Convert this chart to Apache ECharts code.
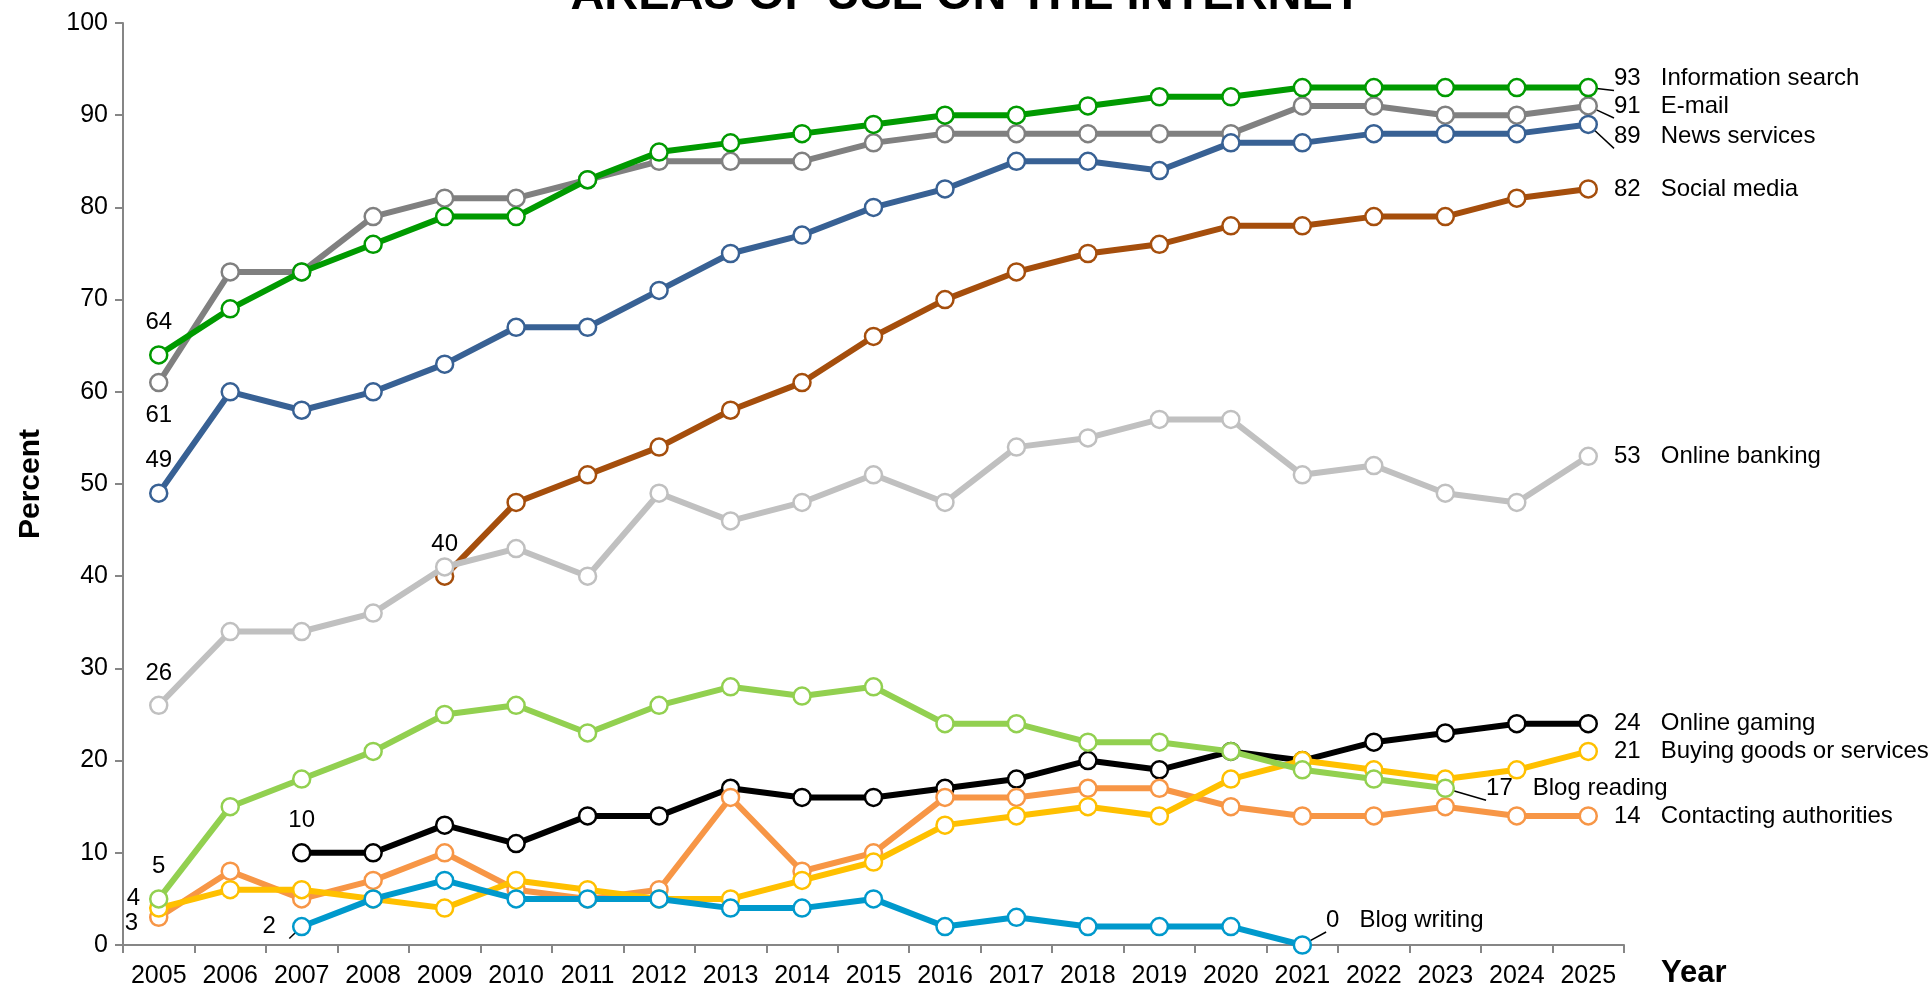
<!DOCTYPE html>
<html>
<head>
<meta charset="utf-8">
<title>Areas of use on the internet</title>
<script src="https://cdn.jsdelivr.net/npm/echarts@6/dist/echarts.min.js"></script>
<style>
  html, body { margin: 0; padding: 0; background: #fff; }
  #chart { width: 1932px; height: 990px; }
</style>
</head>
<body>
<div id="chart"></div>
<script>
  // years on the x axis
  const years = ['2005', '2006', '2007', '2008', '2009', '2010', '2011', '2012', '2013', '2014', '2015',
                 '2016', '2017', '2018', '2019', '2020', '2021', '2022', '2023', '2024', '2025']
  const yTicks = [0, 10, 20, 30, 40, 50, 60, 70, 80, 90, 100]

  // percent per year, null = not asked that year
  const infoSearch   = [64, 69, 73, 76, 79, 79, 83, 86, 87, 88, 89, 90, 90, 91, 92, 92, 93, 93, 93, 93, 93]
  const email        = [61, 73, 73, 79, 81, 81, 83, 85, 85, 85, 87, 88, 88, 88, 88, 88, 91, 91, 90, 90, 91]
  const newsServices = [49, 60, 58, 60, 63, 67, 67, 71, 75, 77, 80, 82, 85, 85, 84, 87, 87, 88, 88, 88, 89]
  const socialMedia  = [null, null, null, null, 40, 48, 51, 54, 58, 61, 66, 70, 73, 75, 76, 78, 78, 79, 79, 81, 82]
  const onlineBanking = [26, 34, 34, 36, 41, 43, 40, 49, 46, 48, 51, 48, 54, 55, 57, 57, 51, 52, 49, 48, 53]
  const onlineGaming = [null, null, 10, 10, 13, 11, 14, 14, 17, 16, 16, 17, 18, 20, 19, 21, 20, 22, 23, 24, 24]
  const contacting   = [3, 8, 5, 7, 10, 6, 5, 6, 16, 8, 10, 16, 16, 17, 17, 15, 14, 14, 15, 14, 14]
  const buying       = [4, 6, 6, 5, 4, 7, 6, 5, 5, 7, 9, 13, 14, 15, 14, 18, 20, 19, 18, 19, 21]
  const blogReading  = [5, 15, 18, 21, 25, 26, 23, 26, 28, 27, 28, 24, 24, 22, 22, 21, 19, 18, 17, null, null]
  const blogWriting  = [null, null, 2, 5, 7, 5, 5, 5, 4, 4, 5, 2, 3, 2, 2, 2, 0, null, null, null, null]

  const FONT = '"Liberation Sans", Arial, sans-serif'
  const leader = { show: true, lineStyle: { color: '#000', width: 1.5 } }

  // label for the last point: value, then the series name
  const endLabel = (name, extra) => Object.assign({
    show: true,
    position: 'right',
    distance: 16,
    formatter: p => '{v|' + p.value + '}{n|' + name + '}'
  }, extra || {})

  const startLabel = (position, distance, extra) => Object.assign({
    show: true, position: position, distance: distance
  }, extra || {})

  // index -> label / labelLine for the few annotated points
  const makeSeries = (name, values, color, labels, z) => ({
    name: name,
    type: 'line',
    z: z,
    data: values.map((v, i) => {
      const item = { value: v }
      if (labels[i]) {
        item.label = labels[i].label
        if (labels[i].line) item.labelLine = leader
      }
      return item
    }),
    symbol: 'circle',
    symbolSize: 17,
    lineStyle: { color: color, width: 6 },
    itemStyle: { color: '#fff', borderColor: color, borderWidth: 2.5 },
    label: {
      show: false,
      color: '#000',
      fontFamily: FONT,
      fontSize: 24,
      lineHeight: 24,
      rich: {
        v: { fontFamily: FONT, fontSize: 24, color: '#000' },
        n: { fontFamily: FONT, fontSize: 24, color: '#000', padding: [0, 0, 0, 20] }
      }
    },
    emphasis: { disabled: true },
    connectNulls: false
  })

  const series = [
    makeSeries('E-mail', email, '#808080', {
      0: { label: startLabel('bottom', 11) },
      20: { label: endLabel('E-mail'), line: true }
    }, 2),
    makeSeries('Information search', infoSearch, '#009A00', {
      0: { label: startLabel('top', 11) },
      20: { label: endLabel('Information search', { offset: [0, -9] }), line: true }
    }, 3),
    makeSeries('News services', newsServices, '#386194', {
      0: { label: startLabel('top', 11) },
      20: { label: endLabel('News services', { offset: [0, 12] }), line: true }
    }, 4),
    makeSeries('Social media', socialMedia, '#A54E0C', {
      4: { label: startLabel('top', 10) },
      20: { label: endLabel('Social media') }
    }, 5),
    makeSeries('Online banking', onlineBanking, '#C0C0C0', {
      0: { label: startLabel('top', 10) },
      20: { label: endLabel('Online banking') }
    }, 6),
    makeSeries('Online gaming', onlineGaming, '#000000', {
      2: { label: startLabel('top', 11) },
      20: { label: endLabel('Online gaming') }
    }, 7),
    makeSeries('Contacting authorities', contacting, '#F79646', {
      0: { label: startLabel('left', 11, { offset: [0, 6] }) },
      20: { label: endLabel('Contacting authorities') }
    }, 8),
    makeSeries('Buying goods or services', buying, '#FFC000', {
      0: { label: startLabel('left', 9, { offset: [0, -10] }) },
      20: { label: endLabel('Buying goods or services') }
    }, 9),
    makeSeries('Blog reading', blogReading, '#92D050', {
      0: { label: startLabel('top', 11) },
      18: { label: endLabel('Blog reading', { distance: 31 }), line: true }
    }, 10),
    makeSeries('Blog writing', blogWriting, '#0099CC', {
      2: { label: startLabel('left', 16), line: true },
      16: { label: endLabel('Blog writing', { distance: 14, offset: [0, -25] }), line: true }
    }, 11)
  ]

  const chart = echarts.init(document.getElementById('chart'))
  chart.setOption({
    animation: false,
    backgroundColor: '#fff',
    title: {
      text: 'AREAS OF USE ON THE INTERNET',
      left: 'center',
      top: -27,
      padding: 0,
      textStyle: { fontFamily: FONT, fontSize: 47, fontWeight: 'bold', color: '#000', lineHeight: 47 }
    },
    grid: { left: 123, right: 308, top: 23, bottom: 45, containLabel: false },
    xAxis: {
      type: 'category',
      data: years,
      boundaryGap: true,
      name: 'Year',
      nameLocation: 'end',
      nameGap: 37,
      nameTextStyle: {
        fontFamily: FONT, fontSize: 31, fontWeight: 'bold', color: '#000',
        align: 'left', verticalAlign: 'top', lineHeight: 31, padding: [13, 0, 0, 0]
      },
      axisLine: { lineStyle: { color: '#868686', width: 2 } },
      axisTick: { show: true, length: 8, lineStyle: { color: '#868686', width: 2 } },
      axisLabel: { fontFamily: FONT, fontSize: 25, color: '#000', margin: 19, interval: 0 },
      splitLine: { show: false }
    },
    yAxis: {
      type: 'value',
      min: yTicks[0],
      max: yTicks[yTicks.length - 1],
      interval: yTicks[1] - yTicks[0],
      name: 'Percent',
      nameLocation: 'middle',
      nameGap: 77,
      nameTextStyle: { fontFamily: FONT, fontSize: 30, fontWeight: 'bold', color: '#000' },
      axisLine: { show: true, lineStyle: { color: '#868686', width: 2 } },
      axisTick: { show: true, length: 8, lineStyle: { color: '#868686', width: 2 } },
      axisLabel: { fontFamily: FONT, fontSize: 25, color: '#000', margin: 15 },
      splitLine: { show: false }
    },
    series: series
  })
</script>
</body>
</html>
